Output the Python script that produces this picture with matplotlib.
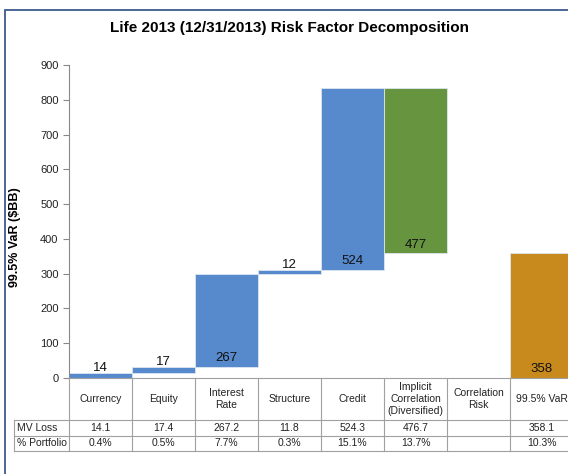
import matplotlib
matplotlib.use("Agg")
import matplotlib.pyplot as plt
from matplotlib.transforms import blended_transform_factory
from matplotlib.patches import Rectangle
import numpy as np

plt.rcParams['font.family'] = ['Liberation Sans', 'DejaVu Sans']

categories = ["Currency", "Equity", "Interest\nRate", "Structure", "Credit",
              "Implicit\nCorrelation\n(Diversified)", "Correlation\nRisk", "99.5% VaR"]
mv_loss = [14.1, 17.4, 267.2, 11.8, 524.3, 476.7, None, 358.1]
mv_loss_text = ["14.1", "17.4", "267.2", "11.8", "524.3", "476.7", "", "358.1"]
pct_text = ["0.4%", "0.5%", "7.7%", "0.3%", "15.1%", "13.7%", "", "10.3%"]
bar_labels = ["14", "17", "267", "12", "524", "477", "", "358"]
kinds = ["up", "up", "up", "up", "up", "down", "none", "total"]

BLUE = "#578ACC"
GREEN = "#67953F"
ORANGE = "#C98A1D"

W, H = 568, 474
fig = plt.figure(figsize=(W / 100, H / 100), dpi=100)

# outer border (extends off right/bottom edge like the reference crop)
fig.patches.append(Rectangle((5 / W, -0.05), 1.1, 1 - 10 / H + 0.05,
                             transform=fig.transFigure, fill=False,
                             edgecolor="#3E5A8C", linewidth=1.3))

left_px, right_px, top_px, bot_px = 69, 573, 65, 378
ax = fig.add_axes([left_px / W, 1 - bot_px / H, (right_px - left_px) / W,
                   (bot_px - top_px) / H])

# waterfall computation
bottoms, heights, colors = [], [], []
running = 0.0
for v, k in zip(mv_loss, kinds):
    if k == "up":
        bottoms.append(running); heights.append(v); colors.append(BLUE)
        running += v
    elif k == "down":
        running -= v
        bottoms.append(running); heights.append(v); colors.append(GREEN)
    elif k == "total":
        bottoms.append(0); heights.append(v); colors.append(ORANGE)
    else:
        bottoms.append(0); heights.append(0); colors.append("none")

x = np.arange(len(categories))
ax.bar(x, heights, bottom=bottoms, width=1.0, color=colors,
       edgecolor="#DDE6F0", linewidth=0.6)

for i, (b, h, lab) in enumerate(zip(bottoms, heights, bar_labels)):
    if not lab:
        continue
    if h < 60:
        ax.annotate(lab, (x[i], b + h), xytext=(0, -1), textcoords="offset points",
                    ha="center", va="bottom", fontsize=9.5, color="#111111")
    else:
        ax.annotate(lab, (x[i], b), xytext=(0, 2), textcoords="offset points",
                    ha="center", va="bottom", fontsize=9.5, color="#111111")

ax.set_xlim(-0.5, len(categories) - 0.5)
ax.set_ylim(0, 900)
ax.set_yticks(np.arange(0, 901, 100))
ax.tick_params(axis="y", labelsize=8, length=4, color="#888888", labelcolor="#222222")
ax.set_xticks([])
for s in ["top", "right"]:
    ax.spines[s].set_visible(False)
ax.spines["left"].set_color("#888888")
ax.spines["bottom"].set_color("#A0A0A0")

ax.set_ylabel("99.5% VaR ($BB)", fontsize=9, fontweight="bold", labelpad=0)
ax.yaxis.set_label_coords(-(69 - 21) / 504.0, (378 - 237) / 313.0)

fig.text(290 / W, 1 - 28 / H, "Life 2013 (12/31/2013) Risk Factor Decomposition",
         ha="center", va="center", fontsize=11, fontweight="bold")

# data table below the axis
tr = blended_transform_factory(ax.transData, ax.transAxes)
ph = bot_px - top_px
def yf(px):
    return -(px - bot_px) / ph

y_head = yf(420)
y_mv = yf(436)
y_pct = yf(451)
x_left = -0.5 - (left_px - 14) / 63.0
x_right = len(categories) - 0.5
lc = "#A0A0A0"
lw = 0.8
for xb in np.arange(-0.5, len(categories) + 0.5, 1.0):
    ax.plot([xb, xb], [0, y_pct], transform=tr, color=lc, lw=lw, clip_on=False)
ax.plot([x_left, x_left], [y_head, y_pct], transform=tr, color=lc, lw=lw, clip_on=False)
for yy in (y_head, y_mv, y_pct):
    ax.plot([x_left, x_right], [yy, yy], transform=tr, color=lc, lw=lw, clip_on=False)

for i, c in enumerate(categories):
    ax.text(x[i], (0 + y_head) / 2, c, transform=tr, ha="center", va="center",
            fontsize=7.5, color="#222222", linespacing=1.2, clip_on=False)
    ax.text(x[i], (y_head + y_mv) / 2, mv_loss_text[i], transform=tr, ha="center",
            va="center", fontsize=7.5, color="#222222", clip_on=False)
    ax.text(x[i], (y_mv + y_pct) / 2, pct_text[i], transform=tr, ha="center",
            va="center", fontsize=7.5, color="#222222", clip_on=False)

ax.text(x_left + 0.05, (y_head + y_mv) / 2, "MV Loss", transform=tr, ha="left",
        va="center", fontsize=7.5, color="#222222", clip_on=False)
ax.text(x_left + 0.05, (y_mv + y_pct) / 2, "% Portfolio", transform=tr, ha="left",
        va="center", fontsize=7.5, color="#222222", clip_on=False)

fig.savefig("out.png", dpi=100)
